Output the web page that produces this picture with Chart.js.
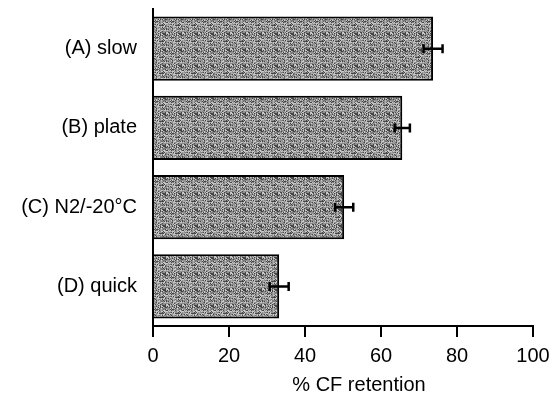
<!DOCTYPE html>
<html>
<head>
<meta charset="utf-8">
<script src="https://cdn.jsdelivr.net/npm/chart.js@4"></script>
<style>
html,body{margin:0;padding:0;background:#fff;}
#wrap{width:559px;height:399px;}
</style>
</head>
<body>
<div id="wrap"><canvas id="c" width="559" height="399"></canvas></div>
<script>
const categories = ['(A) slow', '(B) plate', '(C) N2/-20°C', '(D) quick'];
const retention = [73.7, 65.6, 50.3, 33.2];
const errors = [2.5, 2.0, 2.4, 2.5];
const xTicks = [0, 20, 40, 60, 80, 100];
const xTitle = '% CF retention';

const FONT = 'Liberation Sans, Arial, Helvetica, sans-serif';

function makePattern() {
  const p = document.createElement('canvas');
  p.width = 16; p.height = 16;
  const g = p.getContext('2d');
  const levels = [70, 115, 145, 170, 200, 130];
  for (let y = 0; y < 16; y++) {
    for (let x = 0; x < 16; x++) {
      let h = (x * 374761393 + y * 668265263) >>> 0;
      h = ((h ^ (h >>> 13)) * 1274126177) >>> 0;
      const v = levels[(h >>> 7) % levels.length];
      g.fillStyle = 'rgb(' + v + ',' + v + ',' + v + ')';
      g.fillRect(x, y, 1, 1);
    }
  }
  return g.createPattern(p, 'repeat');
}

const errorBars = {
  id: 'errorBars',
  afterDatasetsDraw(chart) {
    const ctx = chart.ctx;
    const xs = chart.scales.x;
    const meta = chart.getDatasetMeta(0);
    ctx.save();
    ctx.strokeStyle = '#000';
    ctx.lineWidth = 2.5;
    meta.data.forEach((bar, i) => {
      const y = bar.y;
      const x1 = xs.getPixelForValue(retention[i] - errors[i]);
      const x2 = xs.getPixelForValue(retention[i] + errors[i]);
      ctx.beginPath();
      ctx.moveTo(x1, y); ctx.lineTo(x2, y);
      ctx.moveTo(x1, y - 4.5); ctx.lineTo(x1, y + 4.5);
      ctx.moveTo(x2, y - 4.5); ctx.lineTo(x2, y + 4.5);
      ctx.stroke();
    });
    ctx.restore();
  }
};

const axisTitle = {
  id: 'axisTitle',
  afterDraw(chart) {
    const ctx = chart.ctx;
    const xs = chart.scales.x;
    ctx.save();
    ctx.fillStyle = '#000';
    ctx.font = '20px ' + FONT;
    ctx.textAlign = 'center';
    ctx.textBaseline = 'middle';
    ctx.fillText(xTitle, (xs.left + xs.right) / 2 + 16, 385);
    ctx.restore();
  }
};

new Chart(document.getElementById('c'), {
  type: 'bar',
  data: {
    labels: categories,
    datasets: [{
      data: retention,
      backgroundColor: makePattern(),
      borderColor: '#000',
      borderWidth: 2,
      borderSkipped: 'start',
      categoryPercentage: 1.0,
      barPercentage: 0.81
    }]
  },
  options: {
    indexAxis: 'y',
    responsive: false,
    animation: false,
    devicePixelRatio: 1,
    layout: { padding: { top: 9, right: 26, left: 0, bottom: 0 } },
    plugins: { legend: { display: false }, tooltip: { enabled: false } },
    scales: {
      x: {
        type: 'linear',
        min: 0, max: 100,
        afterBuildTicks(scale) { scale.ticks = xTicks.map(v => ({ value: v })); },
        afterFit(scale) { scale.height = 73; scale.paddingLeft = 0; scale.paddingRight = 0; },
        grid: { drawOnChartArea: false, drawTicks: true, tickLength: 11, color: '#000', lineWidth: 2 },
        border: { display: true, color: '#000', width: 2 },
        ticks: { color: '#000', font: { family: FONT, size: 20 }, padding: 7, maxRotation: 0 }
      },
      y: {
        afterFit(scale) { scale.width = 153; scale.paddingTop = 0; scale.paddingBottom = 0; },
        grid: { display: false },
        border: { display: true, color: '#000', width: 2 },
        ticks: { color: '#000', font: { family: FONT, size: 20 }, padding: 8 }
      }
    }
  },
  plugins: [errorBars, axisTitle]
});
</script>
</body>
</html>
